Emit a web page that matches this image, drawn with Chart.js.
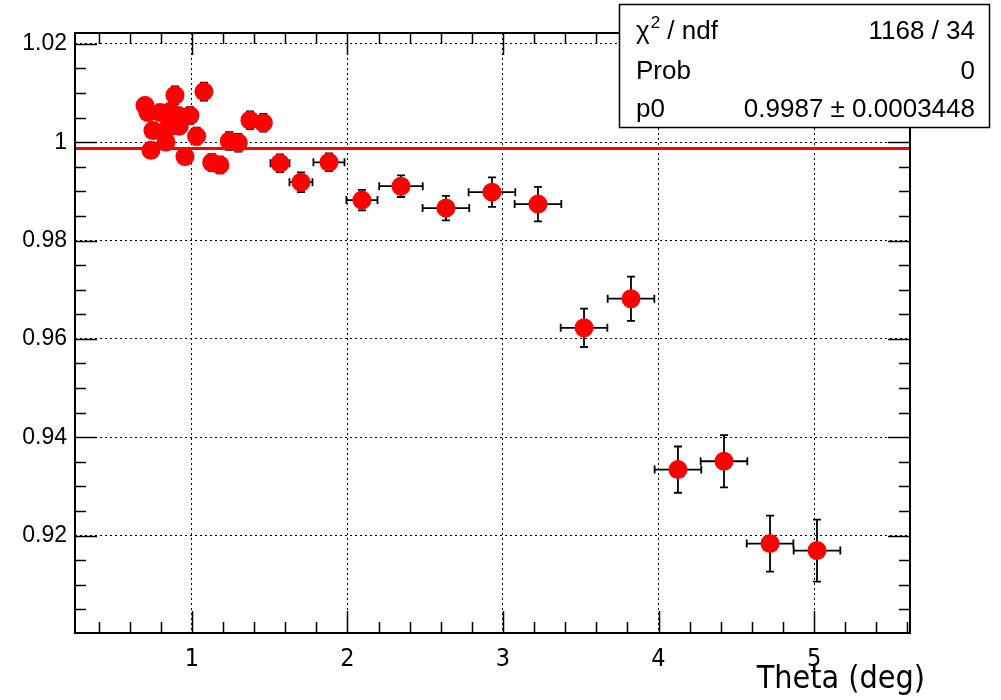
<!DOCTYPE html>
<html>
<head>
<meta charset="utf-8">
<script src="https://cdn.jsdelivr.net/npm/chart.js@4.4.1/dist/chart.umd.min.js"></script>
<style>
  html, body { margin: 0; padding: 0; background: #fff; }
  #wrap { width: 1001px; height: 700px; }
</style>
</head>
<body>
<div id="wrap"><canvas id="chart" width="1001" height="700"></canvas></div>
<script>
// data points
const theta = [0.698, 0.717, 0.736, 0.749, 0.795, 0.833, 0.846, 0.860, 0.891, 0.912, 0.918, 0.955, 0.987, 1.030, 1.077,
               1.127, 1.180, 1.240, 1.298, 1.373, 1.459, 1.566, 1.701, 1.881, 2.093, 2.344, 2.633, 2.929, 3.225,
               3.521, 3.823, 4.125, 4.421, 4.717, 5.019];
const thetaErr = [0.012, 0.012, 0.012, 0.012, 0.015, 0.015, 0.015, 0.015, 0.015, 0.015, 0.015, 0.02, 0.02, 0.02, 0.025,
                  0.025, 0.03, 0.03, 0.035, 0.04, 0.05, 0.061, 0.074, 0.1, 0.1, 0.14, 0.15, 0.15, 0.15,
                  0.15, 0.15, 0.15, 0.15, 0.15, 0.15];
const ratio = [1.00745, 1.00603, 0.99834, 1.00239, 1.00603, 1.00002, 1.00294, 1.00623, 1.00953, 1.00543, 1.00326, 0.99707, 1.00543, 1.00123, 1.01028,
               0.99585, 0.99536, 1.00022, 0.99990, 1.00447, 1.00395, 0.99571, 0.99186, 0.99591, 0.98822, 0.99105, 0.98660, 0.98984, 0.98741,
               0.96225, 0.96818, 0.93342, 0.93512, 0.91838, 0.91696];
const ratioErr = [0.0016, 0.0016, 0.0016, 0.0016, 0.0016, 0.0016, 0.0016, 0.0016, 0.0018, 0.0016, 0.0016, 0.0016, 0.0017, 0.0017, 0.0018,
                  0.0017, 0.0017, 0.0018, 0.0018, 0.0018, 0.0018, 0.0018, 0.002, 0.0018, 0.0021, 0.0022, 0.0025, 0.003, 0.0035,
                  0.0039, 0.0045, 0.0047, 0.0053, 0.0057, 0.0063];
const fitP0 = 0.9987;
const xRange = [0.248, 5.617];
const yRange = [0.9002, 1.0222];
const xTicks = [1, 2, 3, 4, 5];
const yTicks = [0.92, 0.94, 0.96, 0.98, 1, 1.02];
const xMinorStep = 0.2;
const yMinorStep = 0.005;
const statsRows = [['χ', '1168 / 34'], ['Prob', '0'], ['p0', '0.9987 ± 0.0003448']];
const xTitle = 'Theta (deg)';

const condensed = "'DejaVu Sans Condensed', 'Liberation Sans Narrow', 'DejaVu Sans', sans-serif";
const helv = "'Liberation Sans', Arial, sans-serif";

const points = theta.map((t, i) => ({x: t, y: ratio[i]}));

// error bars, drawn under the markers
const errorBars = {
  id: 'errorBars',
  beforeDatasetsDraw(chart) {
    const {ctx, scales: {x, y}} = chart;
    ctx.save();
    ctx.strokeStyle = '#000';
    ctx.lineWidth = 1.8;
    const cap = 4;
    theta.forEach((t, i) => {
      const px = x.getPixelForValue(t);
      const py = y.getPixelForValue(ratio[i]);
      const x0 = x.getPixelForValue(t - thetaErr[i]);
      const x1 = x.getPixelForValue(t + thetaErr[i]);
      const y0 = y.getPixelForValue(ratio[i] - ratioErr[i]);
      const y1 = y.getPixelForValue(ratio[i] + ratioErr[i]);
      ctx.beginPath();
      ctx.moveTo(x0, py); ctx.lineTo(x1, py);
      ctx.moveTo(px, y0); ctx.lineTo(px, y1);
      ctx.moveTo(x0, py - cap); ctx.lineTo(x0, py + cap);
      ctx.moveTo(x1, py - cap); ctx.lineTo(x1, py + cap);
      ctx.moveTo(px - cap, y0); ctx.lineTo(px + cap, y0);
      ctx.moveTo(px - cap, y1); ctx.lineTo(px + cap, y1);
      ctx.stroke();
    });
    ctx.restore();
  }
};

// frame, inside ticks on all four sides, stats box, axis title
const rootFrame = {
  id: 'rootFrame',
  afterDraw(chart) {
    const {ctx, chartArea: a, scales: {x, y}} = chart;
    ctx.save();
    ctx.strokeStyle = '#000';
    ctx.lineWidth = 1.5;
    ctx.beginPath();
    for (let v = Math.ceil(xRange[0] / xMinorStep) * xMinorStep; v < xRange[1]; v += xMinorStep) {
      const major = Math.abs(v - Math.round(v)) < 1e-6;
      const len = major ? 22 : 11;
      const px = Math.round(x.getPixelForValue(v)) + 0.5;
      ctx.moveTo(px, a.bottom); ctx.lineTo(px, a.bottom - len);
      ctx.moveTo(px, a.top); ctx.lineTo(px, a.top + len);
    }
    for (let v = Math.ceil(yRange[0] / yMinorStep) * yMinorStep; v < yRange[1]; v += yMinorStep) {
      const major = Math.abs(v * 50 - Math.round(v * 50)) < 1e-6;
      const len = major ? 22 : 11;
      const py = Math.round(y.getPixelForValue(v)) + 0.5;
      ctx.moveTo(a.left, py); ctx.lineTo(a.left + len, py);
      ctx.moveTo(a.right, py); ctx.lineTo(a.right - len, py);
    }
    ctx.stroke();
    ctx.lineWidth = 2;
    ctx.strokeRect(a.left, a.top, a.right - a.left, a.bottom - a.top);

    // axis title
    ctx.fillStyle = '#000';
    ctx.font = '32px ' + condensed;
    ctx.textAlign = 'right';
    ctx.textBaseline = 'alphabetic';
    ctx.fillText(xTitle, 925, 688);

    // stats box
    const bx = 619, by = 4, bw = 370, bh = 123;
    ctx.fillStyle = '#fff';
    ctx.fillRect(bx, by, bw, bh);
    ctx.lineWidth = 1.5;
    ctx.strokeRect(bx + 0.5, by + 0.5, bw, bh);
    ctx.fillStyle = '#000';
    ctx.font = '26px ' + helv;
    const rowY = [39, 79, 117];
    statsRows.forEach((r, i) => {
      ctx.textAlign = 'left';
      if (i === 0) {
        ctx.fillText(r[0], 636, rowY[i]);
        const w = ctx.measureText(r[0]).width;
        ctx.font = '17px ' + helv;
        ctx.fillText('2', 636 + w + 1, rowY[i] - 11);
        const w2 = ctx.measureText('2').width;
        ctx.font = '26px ' + helv;
        ctx.fillText(' / ndf', 636 + w + w2 + 1, rowY[i]);
      } else {
        ctx.fillText(r[0], 636, rowY[i]);
      }
      ctx.textAlign = 'right';
      ctx.fillText(r[1], 975, rowY[i]);
    });
    ctx.restore();
  }
};

new Chart(document.getElementById('chart'), {
  type: 'scatter',
  data: {
    datasets: [{
      type: 'line',
      data: [{x: xRange[0], y: fitP0}, {x: xRange[1], y: fitP0}],
      borderColor: '#ff0000',
      borderWidth: 3,
      pointRadius: 0,
      showLine: true,
      order: 0
    }, {
      data: points,
      backgroundColor: '#ff0000',
      borderWidth: 0,
      pointRadius: 9.5,
      order: 1
    }]
  },
  options: {
    responsive: false,
    animation: false,
    layout: {padding: {top: 33, right: 91, left: 0, bottom: 0}},
    plugins: {legend: {display: false}, tooltip: {enabled: false}},
    scales: {
      x: {
        type: 'linear',
        min: xRange[0],
        max: xRange[1],
        afterBuildTicks: s => { s.ticks = xTicks.map(v => ({value: v})); },
        afterFit: s => { s.height = 67; },
        grid: {color: '#000', lineWidth: 1, drawTicks: false},
        border: {display: false, dash: [2, 3]},
        ticks: {
          padding: 11,
          color: '#000',
          font: {family: condensed, size: 25},
          callback: v => String(v)
        }
      },
      y: {
        type: 'linear',
        min: yRange[0],
        max: yRange[1],
        afterBuildTicks: s => { s.ticks = yTicks.map(v => ({value: v})); },
        afterFit: s => { s.width = 75; },
        grid: {color: '#000', lineWidth: 1, drawTicks: false},
        border: {display: false, dash: [2, 3]},
        ticks: {
          padding: 8,
          color: '#000',
          font: {family: helv, size: 23},
          callback: v => String(+v.toFixed(2))
        }
      }
    }
  },
  plugins: [errorBars, rootFrame]
});
</script>
</body>
</html>
